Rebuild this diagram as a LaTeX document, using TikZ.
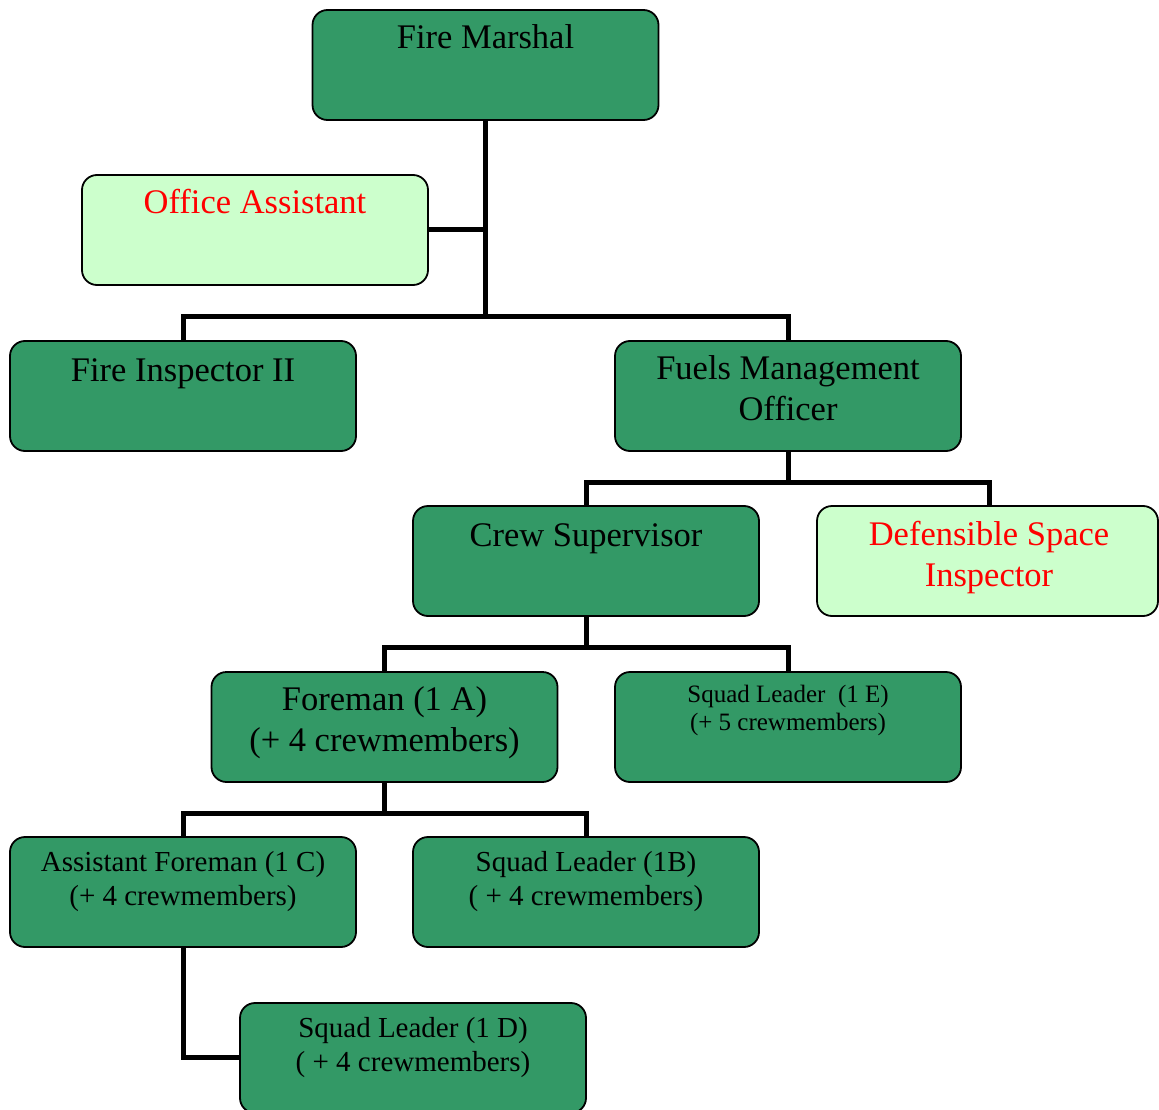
\documentclass[tikz,border=0pt]{standalone}
\usepackage{fontspec}
\setmainfont{Liberation Serif}
\usetikzlibrary{calc}
\definecolor{dkgreen}{RGB}{51,153,102}
\definecolor{ltgreen}{RGB}{204,255,204}
\definecolor{redtxt}{RGB}{255,0,0}
\tikzset{
  box/.style={draw=black, line width=1.8pt, rounded corners=15pt, fill=dkgreen,
    minimum width=346pt, minimum height=110pt, inner sep=0pt, outer sep=0pt},
  ltbox/.style={box, fill=ltgreen},
  conn/.style={draw=black, line width=5pt},
  bigtxt/.style={anchor=base, align=center, inner sep=0pt, font=\fontsize{34.5}{41}\selectfont},
  medtxt/.style={anchor=base, align=center, inner sep=0pt, font=\fontsize{29}{34}\selectfont},
  smltxt/.style={anchor=base, align=center, inner sep=0pt, font=\fontsize{25}{27.5}\selectfont},
}
\begin{document}
\begin{tikzpicture}[x=1pt,y=-1pt]
\fill[white] (0,0) rectangle (1159,1110);
\useasboundingbox (0,0) rectangle (1159,1110);

% boxes
\node[box] (fm) at (485.5,65) {};
\node[ltbox] (oa) at (255,230) {};
\node[box] (fi) at (183,396) {};
\node[box] (fmo) at (788,396) {};
\node[box] (cs) at (586,561) {};
\node[ltbox, minimum width=341pt] (dsi) at (987.5,561) {};
\node[box] (fore) at (384.5,727) {};
\node[box] (sle) at (788,727) {};
\node[box] (af) at (183,892) {};
\node[box] (slb) at (586,892) {};
\node[box] (sld) at (413,1058) {};

% connectors
\coordinate (j1) at (485.5,316);
\draw[conn] (fm.south) -- (j1);
\draw[conn] (oa.east) -- (oa.east -| fm.south);
\draw[conn] (fi.north) |- (j1) -| (fmo.north);

\coordinate (j2) at (788,482);
\coordinate (dsitop) at (989,506);
\draw[conn] (fmo.south) -- (j2);
\draw[conn] (cs.north) |- (j2) -| (dsitop);

\coordinate (j3) at (586,647);
\draw[conn] (cs.south) -- (j3);
\draw[conn] (fore.north) |- (j3) -| (sle.north);

\coordinate (j4) at (384.5,813);
\draw[conn] (fore.south) -- (j4);
\draw[conn] (af.north) |- (j4) -| (slb.north);

\coordinate (sldin) at (240,1057);
\draw[conn] (af.south) |- (sldin);

% texts (base anchor = baseline of the last line)
\node[bigtxt] (fmT) at (485.5,49) {Fire Marshal};
\node[bigtxt, text=redtxt] (oaT) at (255,214) {Office Assistant};
\node[bigtxt] (fiT) at (183,381) {Fire Inspector II};
\node[bigtxt] (fmoT) at (788,420) {Fuels Management\\Officer};
\node[bigtxt] (csT) at (586,546) {Crew Supervisor};
\node[bigtxt, text=redtxt] (dsiT) at (989,586) {Defensible Space\\Inspector};
\node[bigtxt] (foreT) at (384.5,751) {Foreman (1 A)\\(+ 4 crewmembers)};
\node[smltxt] (sleT) at (788,730) {Squad Leader\ \ (1 E)\\(+ 5 crewmembers)};
\node[medtxt] (afT) at (183,905) {Assistant Foreman (1 C)\\(+ 4 crewmembers)};
\node[medtxt] (slbT) at (586,905) {Squad Leader (1B)\\( + 4 crewmembers)};
\node[medtxt] (sldT) at (413,1071) {Squad Leader (1 D)\\( + 4 crewmembers)};
\end{tikzpicture}
\end{document}
